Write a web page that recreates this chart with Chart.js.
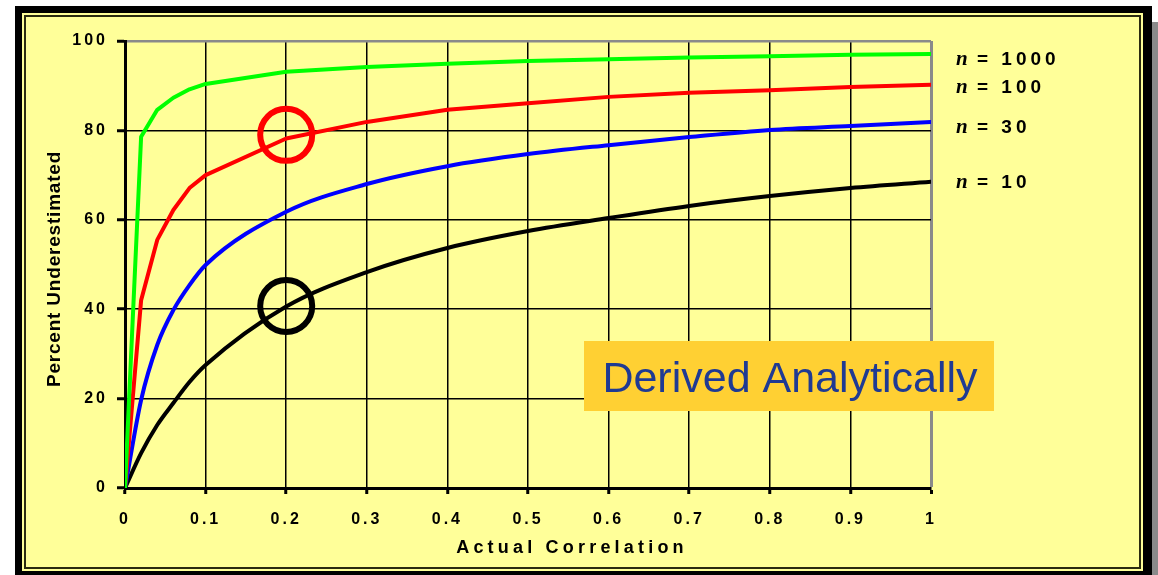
<!DOCTYPE html>
<html>
<head>
<meta charset="utf-8">
<script src="https://cdn.jsdelivr.net/npm/chart.js@4.4.1/dist/chart.umd.min.js"></script>
<style>
  html, body { margin: 0; padding: 0; background: #ffffff; }
  #wrap { width: 1158px; height: 575px; position: relative; }
  canvas { display: block; }
</style>
</head>
<body>
<div id="wrap"><canvas id="c" width="1158" height="575"></canvas></div>
<script>
// ---- data ----
const correlation = [0, 0.02, 0.04, 0.06, 0.08, 0.1, 0.2, 0.3, 0.4, 0.5, 0.6, 0.7, 0.8, 0.9, 1.0];
const n1000 = [0, 78.6, 84.6, 87.3, 89.2, 90.4, 93.1, 94.2, 94.9, 95.5, 95.9, 96.3, 96.6, 96.9, 97.1];
const n100  = [0, 42.0, 55.5, 62.2, 67.1, 70.0, 78.2, 81.9, 84.6, 86.1, 87.5, 88.4, 89.0, 89.7, 90.2];
const n30   = [0, 19.7, 32.0, 39.8, 45.4, 49.9, 61.8, 68.0, 72.0, 74.7, 76.7, 78.5, 80.1, 81.0, 81.9];
const n10   = [0, 7.8, 14.1, 19.0, 23.7, 27.5, 40.6, 48.3, 53.7, 57.5, 60.4, 63.1, 65.3, 67.1, 68.5];
const sampleSizes = ['1000', '100', '30', '10'];
const circleX = [0.2, 0.2];
const circleY = [79.0, 40.7];
const xTickValues = [0, 0.1, 0.2, 0.3, 0.4, 0.5, 0.6, 0.7, 0.8, 0.9, 1];
const xTickLabels = ['0', '0.1', '0.2', '0.3', '0.4', '0.5', '0.6', '0.7', '0.8', '0.9', '1'];
const yTickValues = [0, 20, 40, 60, 80, 100];
const yTickLabels = ['0', '20', '40', '60', '80', '100'];
const xTitle = 'Actual Correlation';
const yTitle = 'Percent Underestimated';
const boxText = 'Derived Analytically';

// ---- styles ----
const SANS = '"Liberation Sans", Arial, sans-serif';
const SERIF = '"Liberation Serif", "Times New Roman", serif';
const seriesColors = ['#00FF00', '#FF0000', '#0000FF', '#000000'];
const seriesSmooth = [false, false, true, true];
const seriesData = [n1000, n100, n30, n10];
const labelOffsets = [6, 2.5, 6, 1];

const toPts = arr => correlation.map((x, i) => ({ x: x, y: arr[i] }));

const datasets = [
  {
    label: 'circles',
    data: circleX.map((x, i) => ({ x: x, y: circleY[i] })),
    showLine: false,
    pointRadius: 26,
    pointHoverRadius: 26,
    pointBorderWidth: 6,
    pointBorderColor: ['#FF0000', '#000000'],
    pointBackgroundColor: 'rgba(0,0,0,0)'
  }
].concat(seriesData.map((arr, i) => ({
  label: 'n = ' + sampleSizes[i],
  data: toPts(arr),
  showLine: true,
  borderColor: seriesColors[i],
  borderWidth: 4,
  pointRadius: 0,
  tension: 0,
  cubicInterpolationMode: seriesSmooth[i] ? 'monotone' : 'default',
  borderJoinStyle: 'round',
  borderCapStyle: 'round'
})));

const framePlugin = {
  id: 'frame',
  beforeDraw(chart) {
    const ctx = chart.ctx;
    ctx.save();
    ctx.fillStyle = '#ffffff';
    ctx.fillRect(0, 0, 1158, 575);
    ctx.fillStyle = '#8a8a8a';
    ctx.fillRect(1152, 22, 6, 553);
    ctx.fillStyle = '#000000';
    ctx.fillRect(15, 6, 1137, 575);
    ctx.fillStyle = '#FFFF99';
    ctx.fillRect(22, 13, 1121, 558);
    ctx.strokeStyle = '#2b2b10';
    ctx.lineWidth = 2;
    ctx.strokeRect(25, 16, 1115, 552);
    ctx.restore();
    ctx.letterSpacing = '3px';
  }
};

const overlayPlugin = {
  id: 'overlay',
  afterDraw(chart) {
    const ctx = chart.ctx;
    const ys = chart.scales.y;
    ctx.save();
    ctx.fillStyle = '#000000';
    ctx.textBaseline = 'middle';
    ctx.textAlign = 'left';
    seriesData.forEach((arr, i) => {
      const y = ys.getPixelForValue(arr[arr.length - 1]) + labelOffsets[i];
      const x = 956;
      ctx.letterSpacing = '0px';
      ctx.font = 'italic bold 21px ' + SERIF;
      ctx.fillText('n', x, y);
      const w = ctx.measureText('n').width;
      ctx.font = 'bold 19px ' + SANS;
      ctx.letterSpacing = '4px';
      ctx.fillText(' = ' + sampleSizes[i], x + w, y);
    });
    ctx.font = 'bold 18px ' + SANS;
    ctx.letterSpacing = '4.2px';
    ctx.textAlign = 'center';
    ctx.fillText(xTitle, 572, 548);
    ctx.save();
    ctx.translate(55, 269);
    ctx.rotate(-Math.PI / 2);
    ctx.font = 'bold 19px ' + SANS;
    ctx.letterSpacing = '0.8px';
    ctx.fillText(yTitle, 0, 0);
    ctx.restore();
    ctx.letterSpacing = '0px';
    ctx.fillStyle = '#FFD033';
    ctx.fillRect(584, 341, 410, 70);
    ctx.fillStyle = '#1F3A93';
    ctx.font = '43px ' + SANS;
    ctx.textAlign = 'center';
    ctx.textBaseline = 'alphabetic';
    ctx.fillText(boxText, 790, 392);
    ctx.restore();
    ctx.letterSpacing = '0px';
  }
};

const tickFont = { family: SANS, size: 16, weight: 'bold' };

new Chart(document.getElementById('c'), {
  type: 'scatter',
  data: { datasets: datasets },
  options: {
    responsive: false,
    animation: false,
    events: [],
    layout: { padding: { left: 0, top: 41, right: 227, bottom: 0 } },
    plugins: { legend: { display: false }, tooltip: { enabled: false } },
    scales: {
      x: {
        type: 'linear', min: 0, max: 1,
        afterFit(s) { s.height = 87; },
        afterBuildTicks(s) { s.ticks = xTickValues.map(v => ({ value: v })); },
        ticks: { callback: (v, i) => xTickLabels[i], font: tickFont, color: '#000', padding: 16, autoSkip: false, maxRotation: 0 },
        grid: {
          color: c => (c.tick && Math.abs(c.tick.value - 1) < 1e-9) ? '#8a8a8a' : '#000000',
          lineWidth: c => (c.tick && Math.abs(c.tick.value - 1) < 1e-9) ? 3 : 1.5,
          tickColor: '#000000', tickWidth: 3, tickLength: 6
        },
        border: { color: '#000000', width: 3 }
      },
      y: {
        type: 'linear', min: 0, max: 100,
        afterFit(s) { s.width = 125; },
        afterBuildTicks(s) { s.ticks = yTickValues.map(v => ({ value: v })); },
        ticks: { callback: (v, i) => yTickLabels[i], font: tickFont, color: '#000', padding: 9, autoSkip: false },
        grid: {
          color: c => (c.tick && c.tick.value === 100) ? '#8a8a8a' : '#000000',
          lineWidth: c => (c.tick && c.tick.value === 100) ? 2.5 : 1.5,
          tickColor: '#000000', tickWidth: 3, tickLength: 8
        },
        border: { color: '#000000', width: 3 }
      }
    }
  },
  plugins: [framePlugin, overlayPlugin]
});
</script>
</body>
</html>
